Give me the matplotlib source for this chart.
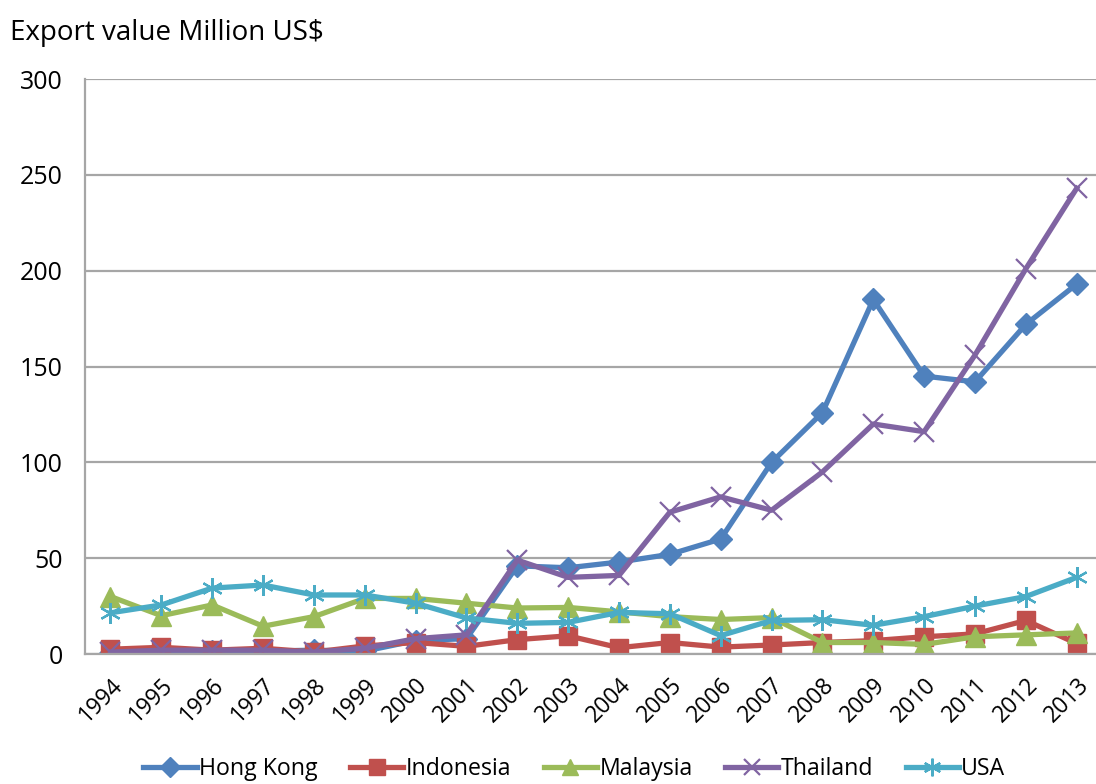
import matplotlib.pyplot as plt
import numpy as np

years = list(range(1994, 2014))

hong_kong = [0.5, 1, 1.5, 1.5, 2, 1.5, 7, 8, 46, 45, 48, 52, 60, 100, 126, 185, 145, 142, 172, 193]
indonesia = [2.5, 3.5, 2, 3, 1, 4.2, 6, 4, 7.5, 9.5, 3.3, 6, 3.6, 4.7, 6, 7, 9, 10.5, 17.5, 5.5]
malaysia = [30, 20, 25.6, 14.5, 19.5, 29, 29, 26.5, 24, 24.3, 22, 19.5, 18, 19, 6, 6, 5, 9, 10, 11]
thailand = [1, 2, 2, 2, 1, 3, 8, 10, 49, 40, 41, 74, 82, 75, 95, 120, 116, 156, 201, 243]
usa = [21.5, 25.6, 34.4, 36, 30.8, 30.8, 26.5, 18.8, 16, 16.5, 21.7, 21, 9.6, 17.5, 17.9, 15, 19.5, 25, 30, 40]

series = [
    ('Hong Kong', hong_kong, '#4F81BD', 'D', 11.5, 1),
    ('Indonesia', indonesia, '#C0504D', 's', 13, 1),
    ('Malaysia', malaysia, '#9BBB59', '^', 14, 1),
    ('Thailand', thailand, '#8064A2', 'x', 14, 1.6),
    ('USA', usa, '#4BACC6', (6, 2, 0), 15, 1.6),
]

plt.rcParams['font.family'] = ['Open Sans', 'DejaVu Sans']

fig = plt.figure(figsize=(10.96, 7.84), dpi=100)
ax = fig.add_axes([0.0776, 0.1658, 0.928, 0.7334])

x = np.arange(len(years))
for name, vals, color, marker, ms, mew in series:
    ax.plot(x, vals, color=color, linewidth=3.8, marker=marker, markersize=ms,
            markeredgewidth=mew, markeredgecolor=color, markerfacecolor=color,
            label=name, solid_joinstyle='round')

ax.set_xlim(-0.5, len(years) - 0.5)
ax.set_ylim(0, 300)
ax.set_yticks(np.arange(0, 301, 50))
ax.set_xticks(x)
ax.set_xticklabels([str(y) for y in years], rotation=45, ha='right',
                   rotation_mode='anchor', fontsize=16.5)
ax.tick_params(axis='y', labelsize=18, length=0, pad=16)
ax.tick_params(axis='x', length=0, pad=14)

ax.grid(axis='y', color='#A6A6A6', linewidth=1.6)
ax.set_axisbelow(True)
for side in ['top', 'right']:
    ax.spines[side].set_visible(False)
for side in ['left', 'bottom']:
    ax.spines[side].set_color('#A6A6A6')
    ax.spines[side].set_linewidth(1.6)

fig.text(0.009, 0.958, 'Export value Million US$', fontsize=20, va='center', ha='left')

fig.legend(loc='center', bbox_to_anchor=(0.524, 0.019), ncol=5, frameon=False,
           fontsize=16.7, handlelength=2.3, columnspacing=1.4, handletextpad=0.1,
           markerscale=0.85, borderpad=0.1)

fig.savefig('out.png', dpi=100)
